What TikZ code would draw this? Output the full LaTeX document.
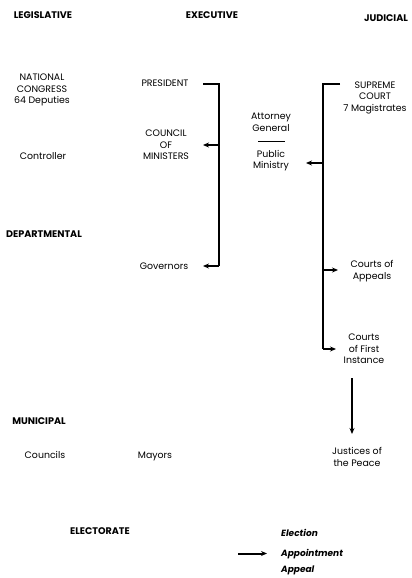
\documentclass[tikz,border=0pt]{standalone}
\usepackage{fontspec}
\setmainfont{Poppins}
\usetikzlibrary{arrows.meta}
\begin{document}
\begin{tikzpicture}[x=1pt,y=-1pt,
  lbl/.style={align=center,inner sep=1pt,font=\fontsize{9.4}{11.5}\selectfont},
  hd/.style={inner sep=1pt,font=\fontsize{9.6}{11}\selectfont\bfseries},
  it/.style={anchor=west,inner sep=1pt,font=\fontsize{9}{11}\selectfont\itshape\bfseries},
  br/.style={line width=2.2pt},
  arr/.style={line width=2pt,-{Stealth[length=6pt,width=5pt]}}]
\useasboundingbox (0,0) rectangle (412,578);
% headers
\node[hd] (hleg) at (43,15) {LEGISLATIVE};
\node[hd] (hexe) at (212,15) {EXECUTIVE};
\node[hd] (hjud) at (386,18) {JUDICIAL};
\node[hd] (departmental) at (44,234) {DEPARTMENTAL};
\node[hd] (municipal) at (39,421) {MUNICIPAL};
\node[hd] (electorate) at (100,531) {ELECTORATE};
% legislative
\node[lbl] (congress) at (42,90) {NATIONAL\\CONGRESS\\64 Deputies};
\node[lbl] (controller) at (43,156) {Controller};
\node[lbl] (councils) at (45,455) {Councils};
% executive
\node[lbl] (president) at (165,83) {PRESIDENT};
\node[lbl] (council) at (166,145) {COUNCIL\\OF\\MINISTERS};
\node[lbl] (governors) at (164,266) {Governors};
\node[lbl] (mayors) at (155,456) {Mayors};
\node[lbl] (attorney) at (271,122.5) {Attorney\\General};
\node[lbl] (public) at (271,160.5) {Public\\Ministry};
\draw[line width=0.8pt] (258,141) -- (285,141);
% judicial
\node[lbl] (supreme) at (375,97.5) {SUPREME\\COURT\\7 Magistrates};
\node[lbl] (appeals) at (372,271) {Courts of\\Appeals};
\node[lbl] (firstinst) at (364,349) {Courts\\of First\\Instance};
\node[lbl] (justices) at (357,457) {Justices of\\the Peace};
% executive bracket
\coordinate (etop) at (219,84);
\coordinate (ebot) at (219,266);
\draw[br] (203,84) -- (etop) -- (ebot);
\draw[arr] (council.east -| etop) -- (203,145);
\draw[arr] (ebot) -- (203,266);
% judicial bracket
\coordinate (jtop) at (323,84);
\coordinate (jbot) at (323,349);
\draw[br] (340,84) -- (jtop) -- (jbot);
\draw[arr] (jtop |- 0,163) -- (306,163);
\draw[arr] (jtop |- 0,270) -- (338,270);
\draw[arr] (jbot) -- (336,349);
% to justices
\coordinate (jp) at (352,378);
\draw[arr] (jp) -- (352,434);
% legend
\node[it] (lelection) at (280,533) {Election};
\node[it] (lappoint) at (280,554) {Appointment};
\node[it] (lappeal) at (280,570.5) {Appeal};
\coordinate (lg) at (238,553.5);
\draw[arr] (lg) -- (267,553.5);
\end{tikzpicture}
\end{document}
